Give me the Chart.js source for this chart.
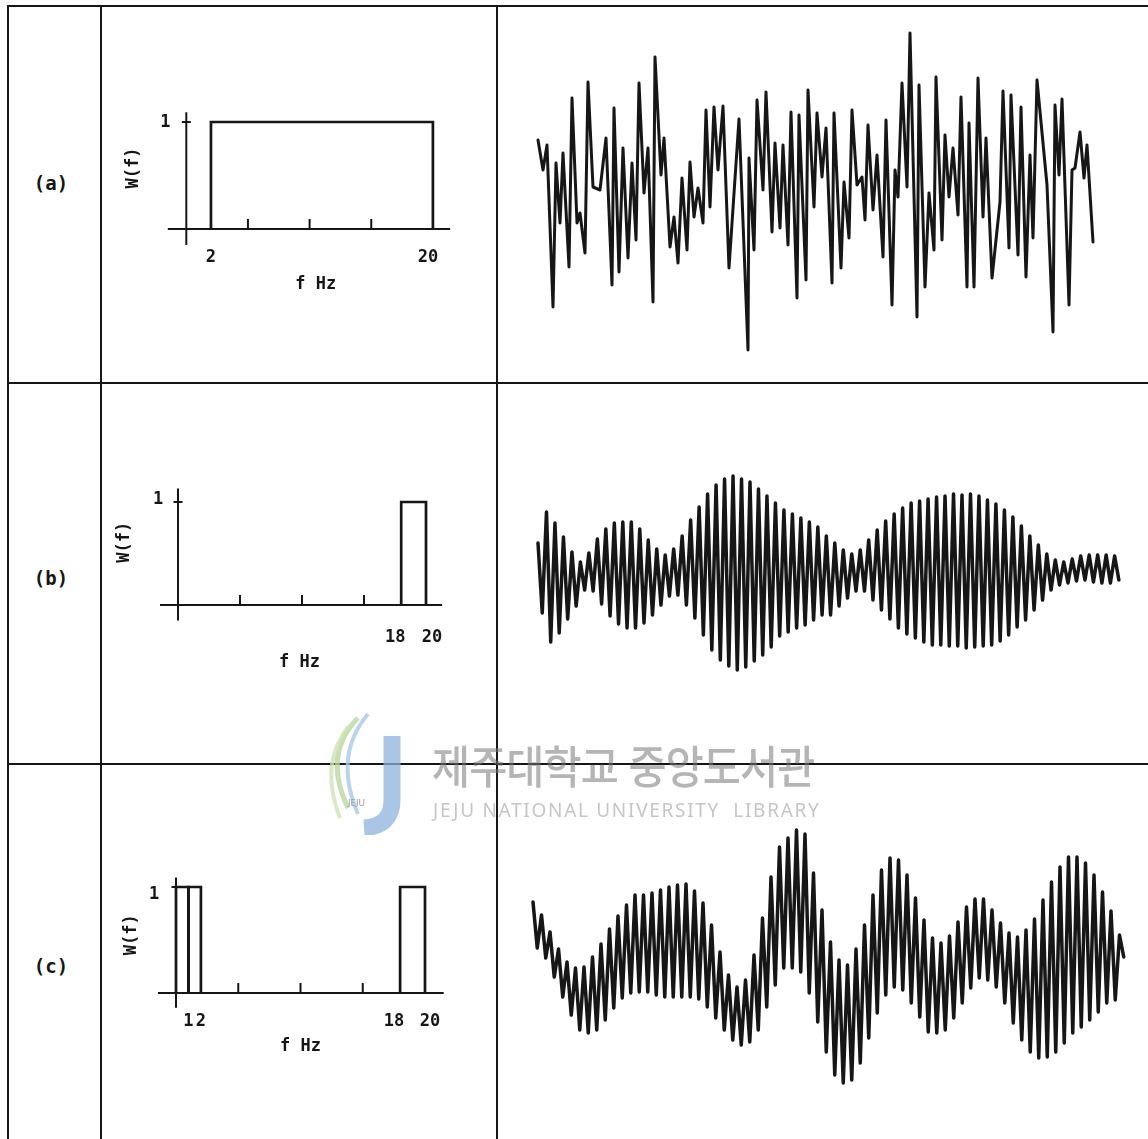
<!DOCTYPE html>
<html lang="ko">
<head>
<meta charset="utf-8">
<title>W(f) — band-limited noise records</title>
<script src="https://cdn.jsdelivr.net/npm/chart.js@4.4.1/dist/chart.umd.min.js"></script>
<style>
  html, body { margin: 0; padding: 0; background: #fff; }
  #fig { position: relative; width: 1148px; height: 1139px; overflow: hidden; background: #fff; }
  #fig canvas { position: absolute; }
  .rule { position: absolute; background: #161616; }
  .row-label { position: absolute; width: 60px; margin-left: -30px; margin-top: -11px; text-align: center;
               font: bold 19px "DejaVu Sans Mono", monospace; color: #161616; line-height: 22px; }
  .wm { position: absolute; pointer-events: none; white-space: nowrap; z-index: 5; }
  .wm-ko { left: 432px; top: 742px; font: 500 45px "Noto Sans CJK KR", sans-serif; line-height: 1;
           color: rgba(120,120,120,0.55); letter-spacing: -1px; transform: scaleX(0.92); transform-origin: 0 0; }
  .wm-en { left: 433px; top: 801px; font: 400 19px "Noto Sans", sans-serif; line-height: 1;
           color: rgba(140,140,140,0.5); letter-spacing: 1.7px; }
  .wm-logo { left: 318px; top: 710px; }
</style>
</head>
<body>
<div id="fig">
  <!-- table frame -->
  <div class="rule" style="left:7px;top:5px;width:1141px;height:2px"></div>
  <div class="rule" style="left:7px;top:382px;width:1141px;height:2px"></div>
  <div class="rule" style="left:7px;top:763px;width:1141px;height:2px"></div>
  <div class="rule" style="left:7px;top:5px;width:2px;height:1134px"></div>
  <div class="rule" style="left:100px;top:5px;width:2px;height:1134px"></div>
  <div class="rule" style="left:496px;top:5px;width:2px;height:1134px"></div>

  <div class="row-label" style="left:51px;top:183px">(a)</div>
  <div class="row-label" style="left:51px;top:578px">(b)</div>
  <div class="row-label" style="left:51px;top:966px">(c)</div>

  <!-- library stamp -->
  <svg class="wm wm-logo" width="100" height="125" viewBox="0 0 100 125">
    <path d="M40 8 C 18 30, 12 60, 30 98" stroke="#b9d7a0" stroke-width="5" fill="none" opacity="0.8"/>
    <path d="M50 4 C 28 30, 22 62, 40 104" stroke="#a9c9e6" stroke-width="4" fill="none" opacity="0.8"/>
    <path d="M31 16 C 10 42, 8 72, 22 108" stroke="#cfe3b8" stroke-width="4" fill="none" opacity="0.8"/>
    <path d="M74 26 L74 90 Q74 116 46 118" stroke="#8fb2dc" stroke-width="17" fill="none" opacity="0.75"/>
    <text x="30" y="96" font-size="9" fill="#9a9a9a" font-family="Noto Sans">JEJU</text>
  </svg>
  <div class="wm wm-ko">제주대학교 중앙도서관</div>
  <div class="wm wm-en">JEJU NATIONAL UNIVERSITY&nbsp;&nbsp;LIBRARY</div>
</div>

<script>
// ---------- filter spectra W(f): pass bands in Hz ----------
const bandStartA = [2];
const bandEndA   = [20];
const bandStartB = [18];
const bandEndB   = [20];
const bandStartC = [0, 1, 18];
const bandEndC   = [1, 2, 20];
const bandLevel  = 1;

const minorTicksHz = [5, 10, 15];
const freqTicksA  = [2, 20];        const freqLabelsA = ['2', '20'];
const freqTicksB  = [18, 20];       const freqLabelsB = ['18', '20'];
const freqTicksC  = [1, 2, 18, 20]; const freqLabelsC = ['1', '2', '18', '20'];
const levelTick   = 1;              const levelLabel  = '1';

// ---------- time records ----------
// (a) broadband 2–20 Hz noise: turning points (sample, amplitude)
const sampleA = [0,5,9,15,18,22,25,31,34,39,42,47,50,55,62,68,74,76,81,85,
  90,94,98,101,106,110,115,117,123,126,132,136,140,144,149,152,156,160,165,168,
  172,176,180,185,191,201,210,211,216,219,225,228,234,237,242,245,250,253,259,261,
  268,270,276,279,284,288,294,296,303,306,311,314,319,324,327,330,335,339,345,348,
  354,357,360,364,369,372,379,381,387,391,396,398,404,407,411,415,420,423,429,431,
  436,440,445,448,454,462,465,471,473,480,483,488,492,495,499,509,515,517,521,524,
  531,534,537,542,546,549,555];
const amplitudeA = [5.0,2.0,4.5,-11.7,2.7,-3.3,3.7,-7.7,9.2,-3.3,-2.3,-6.3,10.8,0.3,0.0,5.2,-9.5,8.2,-8.2,4.2,
  -6.8,2.7,-5.0,10.7,-0.3,4.2,-11.2,13.3,1.5,5.2,-5.7,-2.7,-7.3,1.2,-6.0,2.8,-2.7,0.2,-3.3,8.0,
  -1.7,8.3,2.0,8.4,-7.8,7.1,-16.0,3.2,-6.0,9.0,0.0,9.8,-4.2,4.7,-3.8,4.5,-5.5,7.8,-10.8,7.5,
  -9.0,10.0,-1.7,7.7,1.3,6.2,-9.3,7.7,-7.8,0.8,-4.8,8.0,0.5,1.3,-3.0,6.5,-2.0,3.5,-6.7,7.0,
  -11.5,2.0,-0.7,10.7,0.3,15.7,-12.7,10.5,-9.7,-0.3,-6.0,11.3,-5.0,5.5,-0.7,4.2,-2.5,9.3,-9.7,6.7,
  -9.7,11.2,-2.7,5.2,-8.8,-1.2,9.9,-5.8,9.5,-6.5,8.3,-8.7,3.5,-4.8,11.0,0.5,-14.2,8.5,1.5,9.1,
  -11.5,2.0,2.2,5.8,1.2,4.5,-5.2];

// (b) 18–20 Hz band: crest and trough of every carrier cycle
const crestB = [3.0,6.1,5.0,3.6,2.1,1.1,2.0,3.4,4.4,5.0,
  5.1,5.1,4.4,3.3,2.4,1.8,2.4,3.7,5.3,6.6,
  7.9,8.8,9.4,9.7,9.4,9.1,8.4,7.7,7.0,6.3,
  5.9,5.5,5.1,4.6,3.7,3.0,2.3,1.9,2.3,3.3,
  4.3,5.2,5.9,6.5,7.0,7.2,7.4,7.6,7.7,7.9,
  7.8,7.9,7.7,7.3,6.9,6.3,5.6,4.7,3.7,2.8,
  1.9,1.3,1.1,1.4,1.7,1.8,1.8,1.8,1.7];
const troughB = [-4.0,-6.9,-6.0,-4.6,-3.3,-1.7,-1.8,-3.1,-4.3,-5.1,
  -5.5,-5.5,-5.0,-4.2,-3.2,-2.3,-2.2,-3.2,-4.5,-6.2,
  -7.7,-8.7,-9.3,-9.7,-9.4,-8.8,-8.2,-7.4,-6.3,-5.9,
  -5.5,-5.2,-4.7,-4.2,-4.2,-3.3,-2.5,-1.8,-1.8,-2.7,
  -3.7,-4.6,-5.5,-6.1,-6.5,-6.9,-7.2,-7.2,-7.3,-7.3,
  -7.5,-7.4,-7.3,-7.2,-6.8,-6.2,-5.4,-4.7,-3.7,-2.7,
  -1.7,-1.2,-1.0,-0.8,-0.7,-0.9,-1.0,-1.0,-0.7];

// (c) 0–2 Hz plus 18–20 Hz bands: crest and trough of every carrier cycle
const crestC = [6.8,5.5,3.8,2.1,0.8,0.2,0.3,1.3,2.6,4.1,
  5.4,6.5,7.5,7.5,7.7,8.0,8.3,8.5,8.6,7.9,
  6.7,4.5,1.8,-0.5,-1.7,-1.0,1.5,5.2,9.3,12.3,
  13.2,14.0,13.6,9.7,6.0,2.8,1.0,0.5,2.1,4.5,
  7.5,10.0,11.2,11.0,9.5,7.2,5.0,3.2,2.7,3.4,
  4.8,6.3,7.1,7.1,6.0,4.7,3.7,3.3,4.0,5.1,
  7.0,8.8,10.3,11.3,11.3,10.7,9.5,7.8,5.9,3.5];
const troughC = [2.2,1.2,-0.7,-2.7,-4.5,-6.0,-6.3,-6.0,-5.0,-3.8,
  -2.8,-2.3,-2.2,-2.2,-2.5,-2.7,-2.7,-2.7,-2.7,-2.9,
  -3.7,-4.8,-6.0,-7.0,-7.5,-7.2,-6.0,-3.7,-1.5,0.2,
  0.2,-0.2,-2.3,-5.2,-8.2,-10.5,-11.3,-11.0,-9.3,-6.8,
  -4.3,-2.5,-1.7,-2.0,-3.3,-4.7,-6.2,-6.3,-6.0,-4.8,
  -3.3,-1.8,-0.8,-1.0,-1.7,-3.3,-5.3,-7.0,-8.2,-8.8,
  -8.7,-8.2,-7.3,-6.3,-5.7,-5.0,-4.2,-3.3,-3.0,1.3];

// ---------- layout and style ----------
const INK = '#161616';
const LABEL_FONT = 'bold 17px "DejaVu Sans Mono", monospace';

const spectrumLayout = {
  a: { cell: {x: 101, y: 7, w: 395, h: 375}, origin: [186.3, 229], scale: [12.33, 107],
       fAxis: [-1.5, 21.4], wAxis: [-0.15, 1.09], labelNudge: [0, -5], tickLabelDy: 29,
       xTitleAt: 10.5, xTitleDy: 56, yTitleDx: -53, yTitleAt: 0.57, levelLabelDx: -21, levelLabelDy: 1 },
  b: { cell: {x: 101, y: 384, w: 395, h: 379}, origin: [178, 605], scale: [12.4, 103],
       fAxis: [-1.45, 21.3], wAxis: [-0.15, 1.13], labelNudge: [-6, 6], tickLabelDy: 33,
       xTitleAt: 9.8, xTitleDy: 58, yTitleDx: -53, yTitleAt: 0.61, levelLabelDx: -20, levelLabelDy: -2 },
  c: { cell: {x: 101, y: 765, w: 395, h: 374}, origin: [176, 993], scale: [12.45, 106],
       fAxis: [-1.45, 21.5], wAxis: [-0.14, 1.09], labelNudge: [0, 0, -6, 5], tickLabelDy: 29,
       xTitleAt: 10, xTitleDy: 54, yTitleDx: -44, yTitleAt: 0.55, levelLabelDx: -22, levelLabelDy: 8 }
};

const waveLayout = {
  a: { cell: {x: 498, y: 7, w: 650, h: 375}, origin: [538, 190], scale: [1, 10], width: 3 },
  b: { cell: {x: 498, y: 384, w: 650, h: 379}, origin: [538, 573], scale: [8.48, 10], width: 3.5 },
  c: { cell: {x: 498, y: 765, w: 650, h: 374}, origin: [533, 970], scale: [8.5, 10], width: 3.5 }
};

// value range seen by a canvas that covers the given pixel span
function axisRange(pxFrom, pxTo, originPx, pxPerUnit, inverted) {
  return inverted
    ? { min: (originPx - pxTo) / pxPerUnit, max: (originPx - pxFrom) / pxPerUnit }
    : { min: (pxFrom - originPx) / pxPerUnit, max: (pxTo - originPx) / pxPerUnit };
}

function makeCanvas(cell) {
  const c = document.createElement('canvas');
  c.width = cell.w; c.height = cell.h;
  c.style.left = cell.x + 'px'; c.style.top = cell.y + 'px';
  document.getElementById('fig').appendChild(c);
  return c;
}

function baseOptions(geo) {
  const xr = axisRange(geo.cell.x, geo.cell.x + geo.cell.w, geo.origin[0], geo.scale[0], false);
  const yr = axisRange(geo.cell.y, geo.cell.y + geo.cell.h, geo.origin[1], geo.scale[1], true);
  return {
    responsive: false, animation: false, events: [],
    layout: { padding: 0 },
    scales: {
      x: { type: 'linear', min: xr.min, max: xr.max, bounds: 'data', display: false },
      y: { type: 'linear', min: yr.min, max: yr.max, bounds: 'data', display: false }
    },
    plugins: { legend: { display: false }, tooltip: { enabled: false } }
  };
}

// axes, tick marks and lettering of a spectrum panel
const spectrumAxes = {
  id: 'spectrumAxes',
  afterDatasetsDraw(chart, _args, o) {
    const { ctx, scales: { x, y } } = chart;
    const px0 = x.getPixelForValue(0), py0 = y.getPixelForValue(0);
    const pl = y.getPixelForValue(o.level);
    ctx.save();
    ctx.strokeStyle = INK; ctx.fillStyle = INK; ctx.lineWidth = 2;
    ctx.beginPath();
    ctx.moveTo(x.getPixelForValue(o.fAxis[0]), py0);
    ctx.lineTo(x.getPixelForValue(o.fAxis[1]), py0);
    ctx.moveTo(px0, y.getPixelForValue(o.wAxis[0]));
    ctx.lineTo(px0, y.getPixelForValue(o.wAxis[1]));
    o.minorTicks.forEach(f => {
      const p = x.getPixelForValue(f);
      ctx.moveTo(p, py0); ctx.lineTo(p, py0 - 10);
    });
    ctx.moveTo(px0 - 4.5, pl); ctx.lineTo(px0 + 4.5, pl);
    ctx.stroke();

    ctx.font = LABEL_FONT; ctx.textAlign = 'center'; ctx.textBaseline = 'middle';
    o.ticks.forEach((f, i) =>
      ctx.fillText(o.labels[i], x.getPixelForValue(f) + o.labelNudge[i], py0 + o.tickLabelDy));
    ctx.fillText(o.levelLabel, px0 + o.levelLabelDx, pl + o.levelLabelDy);
    ctx.fillText('f Hz', x.getPixelForValue(o.xTitleAt), py0 + o.xTitleDy);
    ctx.translate(px0 + o.yTitleDx, y.getPixelForValue(o.yTitleAt));
    ctx.rotate(-Math.PI / 2);
    ctx.fillText('W(f)', 0, 0);
    ctx.restore();
  }
};

function spectrumChart(geo, starts, ends, ticks, labels) {
  const opts = baseOptions(geo);
  opts.plugins.spectrumAxes = Object.assign({}, geo, {
    minorTicks: minorTicksHz, ticks, labels, level: levelTick, levelLabel
  });
  const datasets = starts.map((f0, i) => ({
    data: [{x: f0, y: 0}, {x: f0, y: bandLevel}, {x: ends[i], y: bandLevel}, {x: ends[i], y: 0}],
    showLine: true, fill: false, borderColor: INK, borderWidth: 2.7,
    pointRadius: 0, borderJoinStyle: 'miter', clip: false
  }));
  return new Chart(makeCanvas(geo.cell), {
    type: 'scatter', data: { datasets }, options: opts, plugins: [spectrumAxes]
  });
}

// carrier cycles: crest at each whole cycle, trough half a cycle later
function cyclePoints(crests, troughs) {
  const pts = [];
  crests.forEach((v, i) => { pts.push({x: i, y: v}); pts.push({x: i + 0.5, y: troughs[i]}); });
  return pts;
}

function waveChart(geo, points) {
  return new Chart(makeCanvas(geo.cell), {
    type: 'scatter',
    data: { datasets: [{
      data: points, showLine: true, fill: false, borderColor: INK, borderWidth: geo.width,
      pointRadius: 0, tension: 0, borderJoinStyle: 'round', borderCapStyle: 'round'
    }] },
    options: baseOptions(geo)
  });
}

spectrumChart(spectrumLayout.a, bandStartA, bandEndA, freqTicksA, freqLabelsA);
spectrumChart(spectrumLayout.b, bandStartB, bandEndB, freqTicksB, freqLabelsB);
spectrumChart(spectrumLayout.c, bandStartC, bandEndC, freqTicksC, freqLabelsC);

waveChart(waveLayout.a, sampleA.map((s, i) => ({x: s, y: amplitudeA[i]})));
waveChart(waveLayout.b, cyclePoints(crestB, troughB));
waveChart(waveLayout.c, cyclePoints(crestC, troughC));
</script>
</body>
</html>
